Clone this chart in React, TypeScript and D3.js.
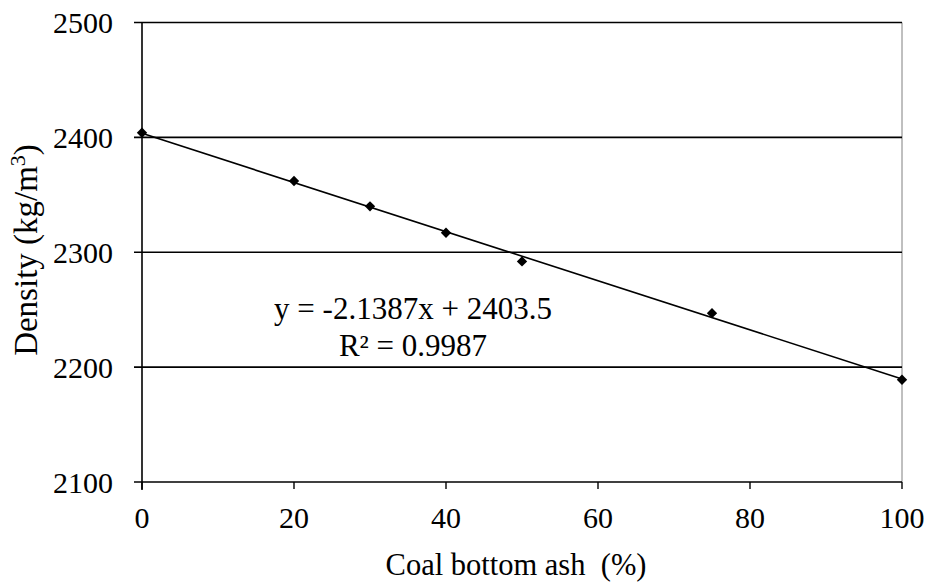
import React from "react";
import * as d3 from "d3";

const xValues = [0, 20, 30, 40, 50, 75, 100];
const densityValues = [2404, 2362, 2340, 2317, 2292, 2247, 2189];
const xTicks = [0, 20, 40, 60, 80, 100];
const yTicks = [2100, 2200, 2300, 2400, 2500];
const slope = -2.1387;
const intercept = 2403.5;
const equationText = "y = -2.1387x + 2403.5";
const r2Text = "R² = 0.9987";
const xTitle = "Coal bottom ash\u00a0\u00a0(%)";

export default function App() {
  const W = 930, H = 584;
  const left = 142, right = 902, top = 22.5, bottom = 482;
  const x = d3.scaleLinear().domain([0, 100]).range([left, right]);
  const y = d3.scaleLinear().domain([2100, 2500]).range([bottom, top]);
  const tf = { fontFamily: "Liberation Serif, Times New Roman, Times, serif" };
  const diamond = d3.symbol().type(d3.symbolDiamond2 || d3.symbolSquare).size(68)();
  const trend = d3.line<number>().x((d) => x(d)).y((d) => y(slope * d + intercept))([0, 100]);
  return (
    <svg width={W} height={H} style={{ position: "absolute", left: 0, top: 0, background: "#fff" }}>
      <rect x={0} y={0} width={W} height={H} fill="#fff" />
      <line x1={right} x2={right} y1={top} y2={bottom} stroke="#808080" strokeWidth={1} />
      {yTicks.map((t) => (
        <g key={t}>
          <line x1={left - 8} x2={right} y1={y(t)} y2={y(t)} stroke="#000" strokeWidth={1.6} />
          <text style={tf} x={left - 29} y={y(t)} dy="0.35em" textAnchor="end" fontSize={30} fill="#000">{t}</text>
        </g>
      ))}
      <line x1={left} x2={left} y1={top} y2={bottom + 8} stroke="#000" strokeWidth={1.6} />
      {xTicks.map((t) => (
        <g key={t}>
          <line x1={x(t)} x2={x(t)} y1={bottom} y2={bottom + 7} stroke="#000" strokeWidth={1.4} />
          <text style={tf} x={x(t)} y={bottom + 46} textAnchor="middle" fontSize={30} fill="#000">{t}</text>
        </g>
      ))}
      <path d={trend || ""} stroke="#000" strokeWidth={1.6} fill="none" />
      {xValues.map((v, i) => (
        <path key={i} d={diamond || ""} transform={`translate(${x(v)},${y(densityValues[i])})`} fill="#000" />
      ))}
      <text style={tf} x={413} y={319} textAnchor="middle" fontSize={31} fill="#000">{equationText}</text>
      <text style={tf} x={413} y={356} textAnchor="middle" fontSize={31} fill="#000">{r2Text}</text>
      <text style={tf} x={516} y={575} textAnchor="middle" fontSize={30.5} fill="#000">{xTitle}</text>
      <text style={tf} transform={`translate(37,250) rotate(-90)`} textAnchor="middle" fontSize={33} fill="#000">
        Density (kg/m<tspan dy={-12} fontSize={22}>3</tspan><tspan dy={12}>)</tspan>
      </text>
    </svg>
  );
}
